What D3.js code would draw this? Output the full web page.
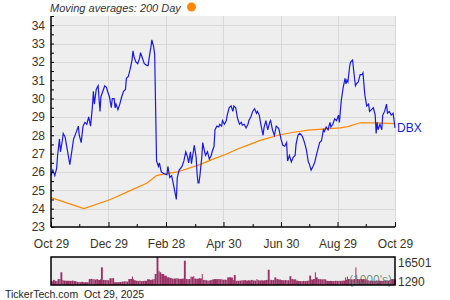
<!DOCTYPE html>
<html>
<head>
<meta charset="utf-8">
<script src="https://cdn.jsdelivr.net/npm/d3@7"></script>
<style>
  body { margin: 0; background: #fff; }
  svg text { font-family: "Liberation Sans", Arial, sans-serif; }
</style>
</head>
<body>
<svg id="chart" width="450" height="300"></svg>
<script>
// DBX closing prices
const priceDates = [
  "2024-10-29","2024-10-31",
  "2024-11-02","2024-11-04","2024-11-05","2024-11-07","2024-11-08","2024-11-10","2024-11-11","2024-11-13","2024-11-15","2024-11-18","2024-11-20","2024-11-22","2024-11-25","2024-11-27","2024-11-28","2024-11-30",
  "2024-12-02","2024-12-04","2024-12-06","2024-12-08","2024-12-10","2024-12-12","2024-12-13","2024-12-14","2024-12-16","2024-12-18","2024-12-20","2024-12-21","2024-12-23","2024-12-25","2024-12-27","2024-12-28","2024-12-30",
  "2025-01-01","2025-01-02","2025-01-04","2025-01-05","2025-01-06","2025-01-08","2025-01-10","2025-01-12","2025-01-14","2025-01-16","2025-01-17","2025-01-19","2025-01-21","2025-01-23","2025-01-24","2025-01-25","2025-01-27","2025-01-29","2025-01-31",
  "2025-02-01","2025-02-03","2025-02-05","2025-02-08","2025-02-09","2025-02-11","2025-02-12","2025-02-13","2025-02-15","2025-02-16","2025-02-18","2025-02-20","2025-02-21","2025-02-23","2025-02-26",
  "2025-03-01","2025-03-02","2025-03-04","2025-03-06","2025-03-08","2025-03-11","2025-03-12","2025-03-14","2025-03-17","2025-03-19","2025-03-21","2025-03-23","2025-03-24","2025-03-26","2025-03-27","2025-03-29","2025-03-30",
  "2025-04-01","2025-04-02","2025-04-03","2025-04-04","2025-04-05","2025-04-07","2025-04-08","2025-04-10","2025-04-11","2025-04-13","2025-04-14","2025-04-15","2025-04-17","2025-04-18","2025-04-20","2025-04-21","2025-04-22","2025-04-23","2025-04-25","2025-04-26","2025-04-28","2025-04-29",
  "2025-05-01","2025-05-03","2025-05-04","2025-05-06","2025-05-08","2025-05-10","2025-05-11","2025-05-13","2025-05-15","2025-05-17","2025-05-19","2025-05-20","2025-05-22","2025-05-24","2025-05-26","2025-05-27","2025-05-29","2025-05-31",
  "2025-06-02","2025-06-04","2025-06-05","2025-06-07","2025-06-09","2025-06-11","2025-06-12","2025-06-14","2025-06-16","2025-06-18","2025-06-19","2025-06-21","2025-06-23","2025-06-25","2025-06-27","2025-06-28","2025-06-30",
  "2025-07-02","2025-07-04","2025-07-06","2025-07-07","2025-07-09","2025-07-11","2025-07-13","2025-07-15","2025-07-16","2025-07-18","2025-07-20","2025-07-22","2025-07-23","2025-07-25","2025-07-27","2025-07-29","2025-07-30",
  "2025-08-01","2025-08-03","2025-08-05","2025-08-06","2025-08-08","2025-08-10","2025-08-12","2025-08-14","2025-08-15","2025-08-17","2025-08-19","2025-08-21","2025-08-22","2025-08-24","2025-08-26","2025-08-28","2025-08-30","2025-08-31",
  "2025-09-02","2025-09-04","2025-09-06","2025-09-07","2025-09-08","2025-09-09","2025-09-11","2025-09-12","2025-09-14","2025-09-15","2025-09-17","2025-09-18","2025-09-20","2025-09-22","2025-09-24","2025-09-25","2025-09-27","2025-09-29",
  "2025-10-01","2025-10-02","2025-10-04","2025-10-06","2025-10-08","2025-10-09","2025-10-10","2025-10-11","2025-10-13","2025-10-15","2025-10-16","2025-10-18","2025-10-20","2025-10-21","2025-10-23","2025-10-24","2025-10-25","2025-10-27","2025-10-29"
];
const priceValues = [
  25.8,26.1,
  25.8,26.2,26.9,27.8,27.1,27.7,28.1,27.9,27.3,26.4,27.1,27.8,28.2,28.5,28.0,27.6,
  28.5,28.7,28.6,29.0,28.5,29.6,30.4,29.7,30.5,30.7,29.3,30.1,30.4,30.7,30.6,30.4,30.1,
  29.5,30.0,30.0,29.5,29.7,29.4,29.7,30.1,30.4,30.5,31.1,31.2,31.6,32.1,32.6,32.3,32.0,31.9,32.2,
  32.5,32.2,31.9,31.8,31.8,32.5,32.8,33.2,32.8,32.4,26.6,26.3,26.5,26.0,25.9,
  25.85,26.3,25.7,25.8,25.3,24.5,25.7,26.1,26.3,26.6,27.1,26.8,26.5,27.1,26.45,27.1,27.45,
  26.8,25.9,25.4,25.4,25.8,26.8,27.6,27.1,26.9,27.1,26.9,26.7,26.9,27.1,27.4,28.3,28.4,28.5,28.45,28.6,28.5,28.8,
  28.6,28.8,29.1,29.5,29.6,29.3,29.6,29.5,28.9,28.6,28.7,28.55,28.6,28.4,28.6,28.8,29.0,29.3,
  29.45,29.2,29.3,29.1,28.5,28.0,28.4,28.8,28.3,28.7,28.8,28.3,28.0,28.5,28.4,28.3,27.8,
  27.45,27.4,27.6,26.6,26.9,26.55,26.8,26.9,27.5,28.0,28.1,28.0,27.9,27.6,27.2,26.55,26.45,
  26.1,26.3,26.55,26.8,27.2,27.6,27.7,28.3,28.2,28.45,28.3,28.7,28.45,28.6,28.9,28.8,29.1,28.7,
  29.9,30.6,31.1,30.8,31.0,30.9,31.8,32.0,32.1,31.6,30.7,30.8,30.9,31.3,31.3,31.4,30.2,29.6,
  29.7,29.3,29.4,29.5,29.1,28.1,28.7,28.3,28.6,28.3,29.1,29.3,29.7,29.2,29.3,29.2,29.1,29.2,28.4
];
// volume in thousands, same dates as priceDates
const volumeValues = [
  2200,3000,
  2400,2200,3500,3500,7500,3000,2600,2500,2500,2400,2600,2300,1800,1700,1600,1900,
  1600,1700,1600,3500,3600,3400,3500,3200,3400,3000,3300,10400,3000,2900,3000,2800,4000,
  3900,4000,1600,1700,1600,1700,1800,2000,2100,2200,2000,3500,3600,5000,3400,2800,2500,2400,2600,
  2300,2400,2500,3500,3300,3100,3000,3300,3500,6500,16501,8400,7500,6500,5500,
  4500,4500,4200,3800,3800,4000,3800,3600,3800,14300,3500,3400,3500,5000,4800,5200,3800,
  3600,3700,3800,4000,3900,6500,3000,3000,2800,2600,2500,2800,3000,3300,3500,3500,3400,3500,3500,3400,3300,3100,
  3100,3000,4500,4600,4400,3000,5900,2500,2500,2600,2800,2700,2900,2600,2800,2700,3000,2700,
  2600,3500,2800,2700,2800,2600,2800,3000,9000,3100,3000,2900,4500,3500,3300,3200,2900,
  2800,2900,2700,2800,5200,3500,3300,3400,2600,2400,2300,2200,2400,2300,2500,2600,5500,
  3200,3500,7500,4500,3500,3400,3300,3500,3300,2500,2400,2500,2400,2300,2500,2400,2500,2400,
  2500,2600,4500,3000,5000,3500,3400,3300,3200,3500,10400,3500,3400,3600,3400,3500,3300,2800,
  2500,2600,2500,2400,2500,2700,2500,2600,2500,2400,2600,2500,2700,2600,3000,3200,3500,3400,3300
];
// 200 day moving average
const maDates = ["2024-10-29","2024-12-03","2024-12-31","2025-01-24","2025-02-08","2025-02-18","2025-02-27","2025-03-12","2025-04-05","2025-04-19","2025-05-02","2025-05-15","2025-05-28","2025-06-08","2025-06-27","2025-07-12","2025-07-29","2025-08-16","2025-09-01","2025-09-09","2025-09-22","2025-10-08","2025-10-29"];
const maValues = [24.6,24.0,24.5,25.05,25.4,25.8,25.9,26.0,26.4,26.7,26.95,27.25,27.5,27.72,28.0,28.15,28.28,28.35,28.4,28.47,28.68,28.68,28.63];

const xTickDates = ["2024-10-29","2024-12-29","2025-02-28","2025-04-30","2025-06-30","2025-08-29","2025-10-29"];
const xMinorDates = ["2024-11-28","2025-01-28","2025-03-31","2025-05-31","2025-07-30","2025-09-28"];
const yTicks = d3.range(23, 34.01, 1);
const volumeLabels = [16501, 1290];

const parse = d3.timeParse("%Y-%m-%d");
const fmt = d3.timeFormat("%b %-d");

const svg = d3.select("#chart");
const plotLeft = 51, plotRight = 395, plotTop = 16, plotBottom = 227;
const volTop = 257, volBottom = 285;

const x = d3.scaleTime().domain([parse(priceDates[0]), parse(priceDates[priceDates.length - 1])]).range([plotLeft, plotRight]);
const y = d3.scaleLinear().domain([23, 34.5]).range([plotBottom, plotTop]);
const yv = d3.scaleLinear().domain([0, 16501]).range([volBottom, volTop]);

// plot background
svg.append("rect").attr("x", plotLeft).attr("y", plotTop).attr("width", plotRight - plotLeft).attr("height", plotBottom - plotTop).attr("fill", "#eeeeee");

// grid
svg.append("g").selectAll("line").data(yTicks.slice(1)).enter().append("line")
  .attr("x1", plotLeft).attr("x2", plotRight)
  .attr("y1", d => Math.round(y(d)) + 0.5).attr("y2", d => Math.round(y(d)) + 0.5)
  .attr("stroke", "#d8d8d8").attr("stroke-width", 1);
svg.append("g").selectAll("line").data(xTickDates.slice(1)).enter().append("line")
  .attr("x1", d => Math.round(x(parse(d))) + 0.5).attr("x2", d => Math.round(x(parse(d))) + 0.5)
  .attr("y1", plotTop).attr("y2", plotBottom)
  .attr("stroke", "#d8d8d8").attr("stroke-width", 1);

// moving average
const line = d3.line().x(d => x(d[0])).y(d => y(d[1]));
svg.append("path")
  .datum(maDates.map((d, i) => [parse(d), maValues[i]]))
  .attr("d", line).attr("fill", "none").attr("stroke", "#ff8800").attr("stroke-width", 1.2);

// price
svg.append("path")
  .datum(priceDates.map((d, i) => [parse(d), priceValues[i]]))
  .attr("d", line).attr("fill", "none").attr("stroke", "#1a1ae0").attr("stroke-width", 1.2);

// y axis
const yAxis = d3.axisLeft(y).tickValues(d3.range(23, 34.51, 0.5))
  .tickSize(-3).tickPadding(6)
  .tickFormat(d => Number.isInteger(d) ? d : "");
const gy = svg.append("g").attr("transform", `translate(${plotLeft},0)`).call(yAxis);

// x axis, major + minor ticks
const xAxis = d3.axisBottom(x).tickValues(xTickDates.map(parse)).tickSize(-5).tickPadding(12).tickFormat(fmt);
const gx = svg.append("g").attr("transform", `translate(0,${plotBottom})`).call(xAxis);
const gxm = svg.append("g").attr("transform", `translate(0,${plotBottom})`)
  .call(d3.axisBottom(x).tickValues(xMinorDates.map(parse)).tickSize(-3).tickFormat(""));
gxm.select(".domain").remove();
gxm.selectAll(".tick line").attr("stroke", "#000");

[gy, gx].forEach(g => {
  g.select(".domain").attr("stroke", "#000").attr("stroke-width", 1.5);
  g.selectAll(".tick line").attr("stroke", "#000");
  g.selectAll("text").attr("font-size", 12).attr("fill", "#3b3323")
    .attr("font-family", "'Liberation Sans', Arial, sans-serif");
});
gx.select(".domain").attr("d", `M${plotLeft},0H${plotRight}`);
gy.select(".domain").attr("d", `M0,${plotTop}V${plotBottom}`);

// ticker label
svg.append("text").attr("x", plotRight + 2).attr("y", y(priceValues[priceValues.length - 1]) + 4)
  .attr("font-size", 12).attr("fill", "#1a1ae0").text("DBX");

// title + legend dot
svg.append("text").attr("x", 50).attr("y", 12).attr("font-size", 11)
  .attr("font-style", "italic").attr("fill", "#333").text("Moving averages: 200 Day");
svg.append("circle").attr("cx", 191.5).attr("cy", 7).attr("r", 4.5).attr("fill", "#ff8800");

// volume panel
svg.append("rect").attr("x", plotLeft).attr("y", volTop).attr("width", plotRight - plotLeft).attr("height", volBottom - volTop)
  .attr("fill", "#eeeeee");
const vdates = priceDates.map(parse);
svg.append("g").selectAll("rect").data(volumeValues).enter().append("rect")
  .attr("x", (d, i) => x(vdates[i]))
  .attr("width", (d, i) => i < vdates.length - 1 ? Math.max(1, x(vdates[i + 1]) - x(vdates[i])) : 1)
  .attr("y", d => yv(d))
  .attr("height", d => volBottom - yv(d))
  .attr("fill", "#993366");
svg.append("text").attr("x", 392).attr("y", 284).attr("text-anchor", "end")
  .attr("font-size", 12).attr("fill", "#4f7f6f").attr("fill-opacity", 0.85).text("(1000's)");
svg.append("rect").attr("x", plotLeft).attr("y", volTop).attr("width", plotRight - plotLeft).attr("height", volBottom - volTop)
  .attr("fill", "none").attr("stroke", "#000").attr("stroke-width", 1.5);

svg.append("g").selectAll("text").data(volumeLabels).enter().append("text")
  .attr("x", plotRight + 3)
  .attr("y", (d, i) => i === 0 ? yv(d) + 10 : yv(d) + 3.5)
  .attr("font-size", 12).attr("fill", "#3b3323")
  .text(d => d);

// footer
svg.append("text").attr("x", 5).attr("y", 298).attr("font-size", 10.5).attr("fill", "#222")
  .style("white-space", "pre").text("TickerTech.com  Oct 29, 2025");
</script>
</body>
</html>
